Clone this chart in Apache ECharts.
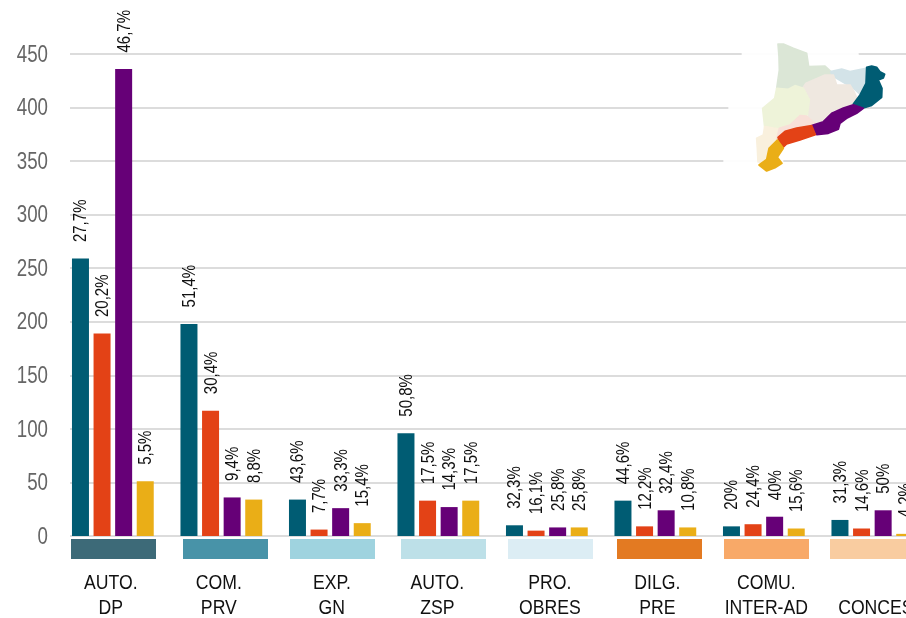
<!DOCTYPE html>
<html><head><meta charset="utf-8">
<style>html,body{margin:0;padding:0;background:#fff}#c{width:906px;height:618px}</style>
<script src="https://cdn.jsdelivr.net/npm/echarts@6/dist/echarts.min.js"></script>
</head><body><div id="c"></div>
<script>
const categories = ['AUTO.\nDP','COM.\nPRV','EXP.\nGN','AUTO.\nZSP','PRO.\nOBRES','DILG.\nPRE','COMU.\nINTER-AD','\nCONCES.'];
const seriesA = [259,198,34,96,10,33,9,15];
const seriesB = [189,117,6,33,5,9,11,7];
const seriesC = [436,36,26,27,8,24,18,24];
const seriesD = [51,34,12,33,8,8,7,2];
const pctA = ['27,7%','51,4%','43,6%','50,8%','32,3%','44,6%','20%','31,3%'];
const pctB = ['20,2%','30,4%','7,7%','17,5%','16,1%','12,2%','24,4%','14,6%'];
const pctC = ['46,7%','9,4%','33,3%','14,3%','25,8%','32,4%','40%','50%'];
const pctD = ['5,5%','8,8%','15,4%','17,5%','25,8%','10,8%','15,6%','4,2%'];
const yTicks = [0,50,100,150,200,250,300,350,400,450];
const colors = ['#005c73','#e34216','#660077','#eaae17'];
const stripColors = ['#3d6a78','#4893a8','#9fd3df','#bde0e8','#dcedf4','#e37a22','#f8a968','#f9cca0'];
const stripLefts = [71,183,290,401,508,617,724,830];
const labelNudge = [-2,-2.5,2,-1,3,2,2.5,6];
const FONT = '"Liberation Sans",Arial,sans-serif';

const mapShapes = [
 ['#dbe6d6',[[234,72],[250,72],[280,85],[320,100],[326,140],[375,138],[393,155],[398,168],[320,193],[305,206],[285,196],[265,208],[230,206],[238,150],[237,110]]],
 ['#d3e3e8',[[392,155],[425,147],[450,155],[498,145],[503,190],[480,222],[458,203],[440,193],[398,168]]],
 ['#efe8e0',[[318,190],[375,165],[400,165],[410,195],[450,195],[462,215],[473,240],[440,262],[400,270],[385,290],[345,318],[325,295],[330,235],[308,205]]],
 ['#eef3d9',[[230,205],[265,208],[285,197],[310,205],[328,240],[322,285],[300,290],[270,320],[240,328],[194,322],[188,265],[224,235]]],
 ['#f9f0dd',[[194,320],[242,328],[235,360],[210,390],[205,428],[174,426],[172,385],[170,355],[190,345]]],
 ['#f8e0d8',[[238,325],[270,315],[300,287],[320,288],[350,316],[290,328],[250,343],[230,358]]],
 ['#005c73',[[500,142],[515,138],[530,142],[540,155],[554,163],[550,174],[535,180],[546,205],[545,232],[515,256],[490,264],[460,252],[480,225],[498,190]]],
 ['#660077',[[460,254],[490,265],[470,280],[440,295],[420,310],[415,328],[385,340],[350,344],[337,316],[370,305],[395,280],[430,264]]],
 ['#e34216',[[234,352],[255,334],[290,324],[335,317],[346,344],[300,360],[260,372],[245,386]]],
 ['#eaae17',[[232,360],[250,385],[232,412],[246,430],[225,443],[200,453],[177,435],[200,418],[207,385]]]
];
const halo = [[125,90],[475,90],[490,250],[490,280],[250,410],[250,440],[70,440],[70,410],[85,280],[85,250],[125,115]];

const chart = echarts.init(document.getElementById('c'), null, {renderer:'canvas'});
const allVals = [seriesA,seriesB,seriesC,seriesD];
const allPcts = [pctA,pctB,pctC,pctD];
const barSeries = allVals.map((vals,s)=>({
  type:'bar', xAxisIndex:0, yAxisIndex:0, barWidth:17, barGap:'27%', z:3,
  itemStyle:{color:colors[s]}, data: vals
}));
const pctData = [];
allVals.forEach((vals,s)=>vals.forEach((v,i)=>pctData.push([i,v,s,allPcts[s][i]])));

chart.setOption({
  animation:false,
  grid:[
    {left:58.6,top:54,width:868,height:482,outerBoundsMode:'none'},
    {left:70,top:54,right:0,height:482,outerBoundsMode:'none'}
  ],
  xAxis:[
    {type:'category',gridIndex:0,data:categories,axisLine:{show:false},axisTick:{show:false},axisLabel:{show:false}},
    {type:'category',gridIndex:1,data:[''],axisLine:{show:false},axisTick:{show:false},axisLabel:{show:false}}
  ],
  yAxis:[
    {type:'value',gridIndex:0,min:0,max:450,interval:50,splitLine:{show:false},axisLine:{show:false},axisTick:{show:false},axisLabel:{show:false}},
    {type:'value',gridIndex:1,min:yTicks[0],max:yTicks[yTicks.length-1],interval:50,
     splitLine:{show:true,lineStyle:{color:'#dcdcdc',width:2}},
     axisLine:{show:false},axisTick:{show:false},axisLabel:{show:false}}
  ],
  series:[
    ...barSeries,
    {type:'custom',xAxisIndex:0,yAxisIndex:0,z:4,silent:true,data:pctData,encode:{x:0,y:1},
     renderItem(p,api){
       const i=api.value(0), v=api.value(1), s=api.value(2);
       const c=api.coord([i,v]);
       return {type:'text',x:c[0]+(s-1.5)*21.6+0.8,y:c[1]-16.5,rotation:Math.PI/2,scaleX:0.79,
         style:{text:pctData[p.dataIndex][3],align:'left',verticalAlign:'middle',fontFamily:FONT,fontSize:19,fill:'#111'}};
     }},
    {type:'custom',xAxisIndex:0,yAxisIndex:0,z:4,silent:true,data:categories.map((c,i)=>[i,0]),encode:{x:0,y:1},
     renderItem(p,api){
       const i=api.value(0);
       const c=api.coord([i,0]);
       return {type:'text',x:c[0]+labelNudge[i],y:c[1]+34.5,scaleX:0.84,
         style:{text:categories[i],align:'center',verticalAlign:'top',lineHeight:25,fontFamily:FONT,fontSize:21,fill:'#111'}};
     }},
    {type:'custom',xAxisIndex:1,yAxisIndex:1,z:4,silent:true,data:yTicks.map(t=>[0,t]),encode:{x:0,y:1},
     renderItem(p,api){
       const t=api.value(1);
       return {type:'text',x:p.coordSys.x-22,y:api.coord([0,t])[1]+1,scaleX:0.78,
         style:{text:String(t),align:'right',verticalAlign:'middle',fontFamily:FONT,fontSize:24,fill:'#666'}};
     }}
  ],
  graphic:[
    ...stripLefts.map((x,i)=>({type:'rect',z:5,silent:true,shape:{x,y:539,width:85,height:20},style:{fill:stripColors[i]}})),
    {type:'group',x:700,y:20,scaleX:1/3,scaleY:1/3,z:6,silent:true,children:[
      {type:'polygon',z:6,shape:{points:halo},style:{fill:'rgba(255,255,255,0.92)'}},
      ...mapShapes.map(([fill,points])=>({type:'polygon',z:7,shape:{points},style:{fill,stroke:fill,lineWidth:5,lineJoin:'round'}}))
    ]}
  ]
});
</script></body></html>
